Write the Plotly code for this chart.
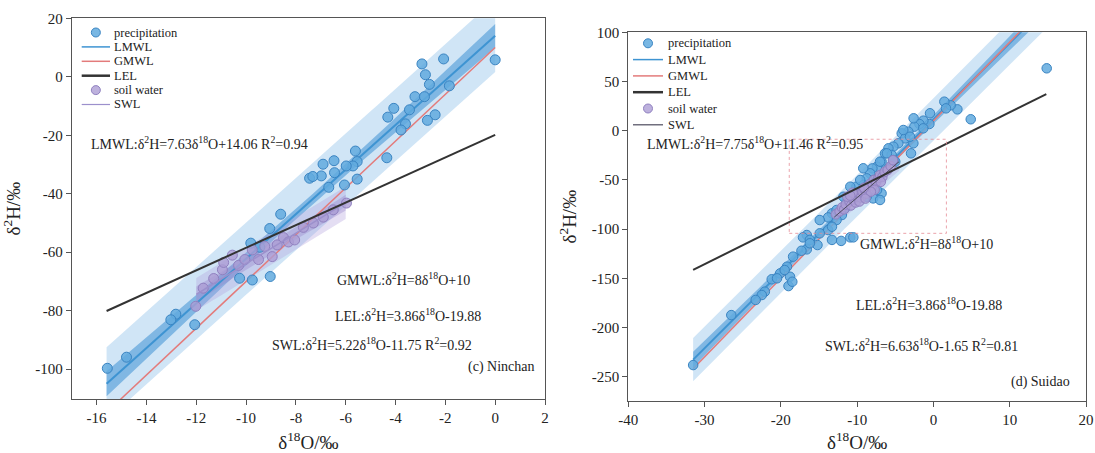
import numpy as np
import plotly.graph_objects as go

# ---------------- data ----------------
# (c) Ninchan : precipitation samples
nc_pre_x = [0.0, -2.07, -2.94, -2.80, -2.64, -1.84, -3.22, -2.84, -2.41, -2.72, -3.44, -4.07, -4.31,
            -3.60, -3.78, -4.35, -5.61, -5.54, -5.71, -5.98, -6.47, -6.91, -6.45, -6.98, -7.45, -7.32,
            -6.68, -6.05, -5.54, -8.61, -9.05, -9.81, -9.45, -9.03, -9.75, -10.26, -12.06, -12.82,
            -13.02, -14.80, -15.57]
nc_pre_y = [5.8, 6.1, 4.4, 0.7, -2.6, -3.1, -6.8, -6.8, -13.0, -14.9, -11.3, -10.8, -13.8,
            -16.1, -18.2, -27.7, -25.4, -29.0, -30.5, -30.5, -28.7, -29.9, -32.8, -33.9, -34.7, -34.1,
            -37.8, -37.0, -35.0, -47.0, -51.9, -56.9, -58.3, -68.3, -69.5, -68.9, -84.8, -81.2,
            -83.1, -95.9, -99.7]
# (c) Ninchan : soil water samples
nc_soil_x = [-12.02, -11.72, -11.30, -10.95, -10.90, -10.55, -10.30, -10.05, -9.75, -9.50, -9.25,
             -8.95, -8.75, -8.50, -8.30, -8.05, -7.70, -7.30, -6.90, -6.50, -5.97]
nc_soil_y = [-78.5, -72.3, -69.0, -66.0, -63.5, -61.0, -64.5, -62.5, -59.2, -62.5, -58.0,
             -61.5, -57.5, -55.0, -56.5, -55.8, -51.5, -50.0, -48.0, -45.5, -43.2]

# (d) Suidao : precipitation samples
sd_pre_x = [14.85, 4.89, 3.14, 2.26, 1.43, 1.65, -0.45, -0.53, -1.32, -1.84, -2.5, -2.63, -2.94, -3.29,
            -4.16, -3.7, -4.6, -5.25, -5.9, -6.35, -5.47, -5.0, -6.8, -7.4, -8.0, -8.3, -7.9, -8.75,
            -9.2, -10.1, -6.8, -7.9, -10.5, -11.4, -11.6, -12.0, -12.7, -13.3, -13.8, -14.9, -13.8,
            -13.3, -14.9, -15.2, -16.6, -17.1, -16.2, -16.6, -17.3, -18.4, -19.2, -18.8, -19.0, -18.5,
            -20.1, -21.2, -22.1, -22.5, -23.3, -26.5, -31.5, -12.1, -10.9, -10.5, -2.6, -1.33, -3.95,
            -3.07, -6.1, -5.26, -7.0, -9.2, -9.6, -10.9, -7.4, -8.75, -7.0, -11.8, -12.7, -13.3,
            -16.2, -20.5, -19.5]
sd_pre_y = [63.4, 11.6, 21.7, 25.8, 29.5, 22.7, 17.7, 6.8, 10.2, 6.8, 4.1, -12.8, -23.0, -1.0,
            -2.7, -7.8, -12.8, -16.2, -17.9, -23.0, -24.7, -31.5, -31.5, -36.6, -38.3, -43.3, -50.1, -48.4,
            -55.2, -56.9, -63.7, -68.8, -67.1, -72.1, -78.9, -85.7, -90.8, -84.0, -88.1, -90.8, -101.0,
            -111.0, -104.3, -116.2, -106.0, -108.4, -111.0, -120.6, -122.0, -128.0, -138.2, -148.4, -157.9, -153.5,
            -145.0, -151.0, -163.6, -167.0, -172.0, -187.4, -238.2, -112.0, -108.4, -108.4, 12.6, 2.4, 0.7,
            -6.1, -23.0, -29.8, -31.5, -38.2, -50.1, -56.9, -60.3, -67.1, -70.4, -67.1, -80.6, -97.6,
            -114.4, -150.0, -141.6]
# (d) Suidao : soil water samples
sd_soil_x = [-12.8, -12.3, -12.0, -11.7, -11.5, -11.0, -10.8, -10.5, -10.2, -10.0, -9.8, -9.5, -9.3,
             -9.0, -8.8, -8.5, -8.3, -8.0, -7.8, -7.5, -7.2, -7.0, -6.7, -6.4, -6.0, -5.6, -5.3, -9.7,
             -8.9, -11.3, -10.6, -7.7, -8.2, -9.1, -10.9, -6.9]
sd_soil_y = [-85, -82, -78, -80, -75, -72, -76, -70, -73, -67, -64, -68, -62,
             -60, -64, -57, -54, -56, -50, -52, -48, -45, -47, -42, -40, -36, -30, -72,
             -69, -67, -63, -60, -62, -58, -66, -52]

# fitted lines (slope, intercept) and their x extents
nc_lmwl = (7.63, 14.06)
nc_lmwl_range = (-15.6, 0.0)
nc_swl = (5.22, -11.75)
nc_swl_range = (-12.0, -6.0)
sd_lmwl = (7.75, 11.46)
sd_lmwl_range = (-31.5, 14.8)
sd_swl = (6.63, -1.65)
sd_swl_range = (-13.0, -4.5)
gmwl = (8.0, 10.0)
lel = (3.86, -19.88)

# band half-widths: (min half width, growth, centre x)
nc_lmwl_pred = (12.3, 0.25, -7.5)
nc_lmwl_conf = (1.8, 0.48, -7.5)
nc_swl_pred = (5.5, 0.3, -9.0)
nc_swl_conf = (2.0, 0.6, -9.0)
sd_lmwl_pred = (21.0, 0.3, -9.0)
sd_lmwl_conf = (3.0, 0.33, -9.0)
sd_swl_pred = (9.0, 0.3, -9.0)
sd_swl_conf = (3.0, 0.5, -9.0)

# dashed box in panel (d)
sd_box = (-18.9, -104.3, 1.7, -8.7)

# ticks
nc_xticks = [-16, -14, -12, -10, -8, -6, -4, -2, 0, 2]
nc_xticklabels = ["-16", "-14", "-12", "-10", "-8", "-6", "-4", "-2", "0", "2"]
nc_yticks = [-100, -80, -60, -40, -20, 0, 20]
nc_yticklabels = ["-100", "-80", "-60", "-40", "-20", "0", "20"]
sd_xticks = [-40, -30, -20, -10, 0, 10, 20]
sd_xticklabels = ["-40", "-30", "-20", "-10", "0", "10", "20"]
sd_yticks = [-250, -200, -150, -100, -50, 0, 50, 100]
sd_yticklabels = ["-250", "-200", "-150", "-100", "-50", "0", "50", "100"]

# equation labels
nc_texts = ["LMWL:δ<sup>2</sup>H=7.63δ<sup>18</sup>O+14.06 R<sup>2</sup>=0.94",
            "GMWL:δ<sup>2</sup>H=8δ<sup>18</sup>O+10",
            "LEL:δ<sup>2</sup>H=3.86δ<sup>18</sup>O-19.88",
            "SWL:δ<sup>2</sup>H=5.22δ<sup>18</sup>O-11.75 R<sup>2</sup>=0.92"]
sd_texts = ["LMWL:δ<sup>2</sup>H=7.75δ<sup>18</sup>O+11.46 R<sup>2</sup>=0.95",
            "GMWL:δ<sup>2</sup>H=8δ<sup>18</sup>O+10",
            "LEL:δ<sup>2</sup>H=3.86δ<sup>18</sup>O-19.88",
            "SWL:δ<sup>2</sup>H=6.63δ<sup>18</sup>O-1.65 R<sup>2</sup>=0.81"]

# ---------------- styles ----------------
W, H = 1095, 453
FONT = "Liberation Serif, Times New Roman, serif"
BLUE_FILL = "rgba(98,170,222,0.85)"
BLUE_EDGE = "#3a84c2"
PURP_FILL = "rgba(172,158,212,0.80)"
PURP_EDGE = "#9081c0"
LIGHT_BAND = "rgba(125,182,230,0.36)"
DARK_BAND = "rgba(62,145,212,0.55)"
PURP_LIGHT = "rgba(178,160,220,0.35)"
PURP_DARK = "rgba(150,128,200,0.35)"
LMWL_C = "#3e94d2"
GMWL_C = "#e37b7b"
LEL_C = "#333333"
SWL_C_NC = "#9c90cc"
SWL_C_SD = "#4d4b5e"

fig = go.Figure()


def line_xy(coef, xr, n=80):
    xs = np.linspace(xr[0], xr[1], n)
    return xs, coef[0] * xs + coef[1]


def band(coef, xr, hw, color, xa, ya):
    xs, ys = line_xy(coef, xr)
    half = np.sqrt(hw[0] ** 2 + (hw[1] * (xs - hw[2])) ** 2)
    bx = np.concatenate([xs, xs[::-1]])
    by = np.concatenate([ys + half, (ys - half)[::-1]])
    fig.add_trace(go.Scatter(x=bx, y=by, mode="lines", fill="toself", fillcolor=color,
                             line=dict(width=0), hoverinfo="skip", showlegend=False,
                             xaxis=xa, yaxis=ya))


def fitline(coef, xr, color, width, xa, ya, name):
    xs, ys = line_xy(coef, xr)
    fig.add_trace(go.Scatter(x=xs, y=ys, mode="lines", line=dict(color=color, width=width),
                             name=name, showlegend=False, xaxis=xa, yaxis=ya))


def points(x, y, fill, edge, size, xa, ya, name):
    fig.add_trace(go.Scatter(x=x, y=y, mode="markers", name=name, showlegend=False,
                             marker=dict(size=size, color=fill, line=dict(color=edge, width=1)),
                             xaxis=xa, yaxis=ya))


# ---- panel (c) ----
band(nc_lmwl, nc_lmwl_range, nc_lmwl_pred, LIGHT_BAND, "x", "y")
band(nc_lmwl, nc_lmwl_range, nc_lmwl_conf, DARK_BAND, "x", "y")
band(nc_swl, nc_swl_range, nc_swl_pred, PURP_LIGHT, "x", "y")
band(nc_swl, nc_swl_range, nc_swl_conf, PURP_DARK, "x", "y")
fitline(gmwl, (-16.0, 0.0), GMWL_C, 1.5, "x", "y", "GMWL")
fitline(nc_lmwl, nc_lmwl_range, LMWL_C, 2, "x", "y", "LMWL")
points(nc_pre_x, nc_pre_y, BLUE_FILL, BLUE_EDGE, 10, "x", "y", "precipitation")
points(nc_soil_x, nc_soil_y, PURP_FILL, PURP_EDGE, 10, "x", "y", "soil water")
fitline(nc_swl, nc_swl_range, SWL_C_NC, 1.5, "x", "y", "SWL")
fitline(lel, nc_lmwl_range, LEL_C, 2, "x", "y", "LEL")

# ---- panel (d) ----
band(sd_lmwl, sd_lmwl_range, sd_lmwl_pred, LIGHT_BAND, "x2", "y2")
band(sd_lmwl, sd_lmwl_range, sd_lmwl_conf, DARK_BAND, "x2", "y2")
band(sd_swl, sd_swl_range, sd_swl_pred, PURP_LIGHT, "x2", "y2")
fitline(sd_lmwl, sd_lmwl_range, LMWL_C, 2, "x2", "y2", "LMWL")
fitline(gmwl, sd_lmwl_range, GMWL_C, 1.5, "x2", "y2", "GMWL")
points(sd_pre_x, sd_pre_y, BLUE_FILL, BLUE_EDGE, 9.5, "x2", "y2", "precipitation")
points(sd_soil_x, sd_soil_y, PURP_FILL, PURP_EDGE, 9.5, "x2", "y2", "soil water")
fitline(sd_swl, sd_swl_range, SWL_C_SD, 1, "x2", "y2", "SWL")
fitline(lel, sd_lmwl_range, LEL_C, 2, "x2", "y2", "LEL")

# ---------------- layout ----------------
def px2x(px):
    return px / W


def py2y(py):
    return 1 - py / H


axis_common = dict(showgrid=False, zeroline=False, showline=True, mirror=True, linecolor="#555555",
                   linewidth=1, ticks="outside", ticklen=5, tickcolor="#555555", automargin=False,
                   tickfont=dict(family=FONT, size=15, color="#222222"),
                   title_font=dict(family=FONT, size=19, color="#222222"))

fig.update_layout(
    width=W, height=H, margin=dict(l=0, r=0, t=0, b=0),
    paper_bgcolor="white", plot_bgcolor="white", showlegend=False,
    font=dict(family=FONT, color="#222222"),
    xaxis=dict(domain=[px2x(71.7), px2x(545)], range=[-17, 2], tickvals=nc_xticks,
               ticktext=nc_xticklabels, anchor="y",
               title=dict(text="δ<sup>18</sup>O/‰", standoff=18), **axis_common),
    yaxis=dict(domain=[py2y(399), py2y(18.3)], range=[-110.2, 20], tickvals=nc_yticks,
               ticktext=nc_yticklabels, anchor="x",
               title=dict(text="δ<sup>2</sup>H/‰", standoff=10), **axis_common),
    xaxis2=dict(domain=[px2x(628.3), px2x(1086)], range=[-40, 20], tickvals=sd_xticks,
                ticktext=sd_xticklabels, anchor="y2",
                title=dict(text="δ<sup>18</sup>O/‰", standoff=18), **axis_common),
    yaxis2=dict(domain=[py2y(401), py2y(32.3)], range=[-274.7, 100], tickvals=sd_yticks,
                ticktext=sd_yticklabels, anchor="x2",
                title=dict(text="δ<sup>2</sup>H/‰", standoff=10), **axis_common),
)

# dashed box
fig.add_shape(type="rect", xref="x2", yref="y2", x0=sd_box[0], y0=sd_box[1], x1=sd_box[2], y1=sd_box[3],
              line=dict(color="rgba(230,140,150,0.8)", width=1, dash="dot"))

# equation annotations (data coordinates)
ann_font = dict(family=FONT, size=14, color="#222222")
nc_text_pos = [(-16.29, -22.5), (-6.44, -69.1), (-6.52, -81.4), (-9.02, -91.4)]
sd_text_pos = [(-37.8, -12.5), (-9.9, -114.1), (-10.4, -176.1), (-14.5, -217.8)]
for t, (x, y) in zip(nc_texts, nc_text_pos):
    fig.add_annotation(x=x, y=y, xref="x", yref="y", text=t, showarrow=False,
                       xanchor="left", yanchor="middle", font=ann_font)
for t, (x, y) in zip(sd_texts, sd_text_pos):
    fig.add_annotation(x=x, y=y, xref="x2", yref="y2", text=t, showarrow=False,
                       xanchor="left", yanchor="middle", font=ann_font)
fig.add_annotation(x=1.62, y=-99.2, xref="x", yref="y", text="(c) Ninchan", showarrow=False,
                   xanchor="right", yanchor="middle", font=ann_font)
fig.add_annotation(x=18.1, y=-255.1, xref="x2", yref="y2", text="(d) Suidao", showarrow=False,
                   xanchor="right", yanchor="middle", font=ann_font)

# legends (one per panel)
legend_items = [
    ("precipitation", "marker", BLUE_FILL, BLUE_EDGE),
    ("LMWL", "line", LMWL_C, 1.5),
    ("GMWL", "line", GMWL_C, 1.5),
    ("LEL", "line", LEL_C, 2.5),
    ("soil water", "marker", PURP_FILL, PURP_EDGE),
    ("SWL", "line", None, 1.2),
]
legend_specs = [
    # line x0, line x1, text x, first item y, step, swl colour
    (81.7, 110.0, 112.0, 32.5, 14.4, SWL_C_NC),
    (633.0, 663.0, 666.0, 43.3, 16.3, SWL_C_SD),
]
for (lx0, lx1, tx, y0, step, swl_c) in legend_specs:
    for i, (name, kind, c1, c2) in enumerate(legend_items):
        yy = y0 + i * step
        if kind == "marker":
            fig.add_shape(type="circle", xref="paper", yref="paper", xsizemode="pixel",
                          ysizemode="pixel", xanchor=px2x((lx0 + lx1) / 2), yanchor=py2y(yy),
                          x0=-4.5, x1=4.5, y0=-4.5, y1=4.5, fillcolor=c1, line=dict(color=c2, width=1))
        else:
            col = c1 if c1 is not None else swl_c
            fig.add_shape(type="line", xref="paper", yref="paper", x0=px2x(lx0), x1=px2x(lx1),
                          y0=py2y(yy), y1=py2y(yy), line=dict(color=col, width=c2))
        fig.add_annotation(x=px2x(tx), y=py2y(yy), xref="paper", yref="paper", text=name,
                           showarrow=False, xanchor="left", yanchor="middle",
                           font=dict(family=FONT, size=12.5, color="#222222"))

fig.write_html("out.html", config={"displayModeBar": False},
               post_script="document.body.style.margin='0';document.body.style.overflow='hidden';")
